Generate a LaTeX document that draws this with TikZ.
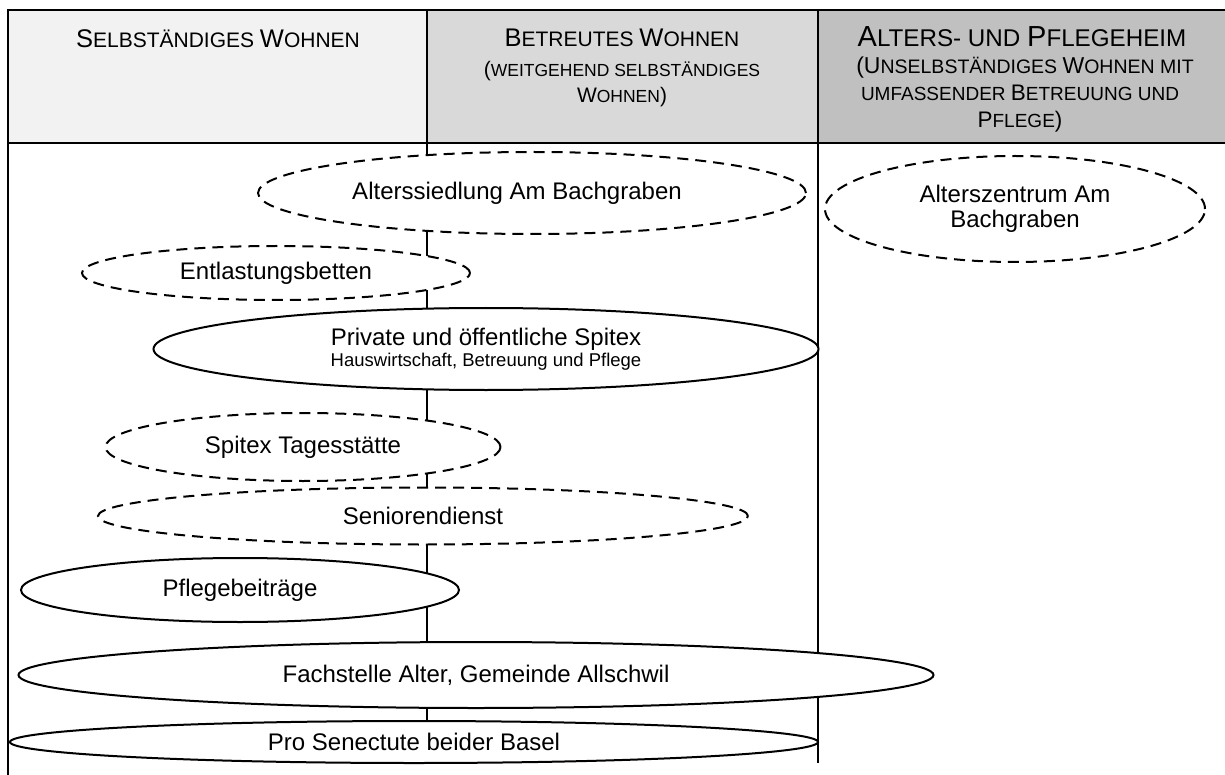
\documentclass[tikz,border=0pt]{standalone}
\usepackage{fontspec}
\setmainfont{Liberation Sans}
\usetikzlibrary{shapes.geometric}
\definecolor{hdrA}{HTML}{F2F2F2}
\definecolor{hdrB}{HTML}{D9D9D9}
\definecolor{hdrC}{HTML}{C0C0C0}
\newcommand{\fs}[1]{\fontsize{#1}{#1}\selectfont}
\begin{document}
\begin{tikzpicture}[x=1pt,y=-1pt,
  tbl/.style={line width=1.8pt},
  rule/.style={line width=1.4pt},
  blob/.style={ellipse, draw, fill=white, line width=2pt, inner sep=0pt, align=center, font=\fs{24}},
  dblob/.style={blob, dash pattern=on 11pt off 7pt},
  hd/.style={anchor=base, inner sep=0pt}
]
\useasboundingbox (0,0) rectangle (1225,775);
% header
\fill[hdrA] (8,10) rectangle (427,143);
\fill[hdrB] (427,10) rectangle (818,143);
\fill[hdrC] (818,10) rectangle (1225,143);
\coordinate (tl) at (8,10);
\coordinate (tr) at (1225,10);
\coordinate (bl) at (8,775);
\coordinate (hl) at (8,143);
\coordinate (hr) at (1225,143);
\coordinate (c1t) at (427,10);
\coordinate (c1m) at (427,143);
\coordinate (c1b) at (427,722);
\coordinate (c2t) at (818,10);
\coordinate (c2b) at (818,763);
\draw[tbl] (bl) -- (tl) -- (tr);
\draw[tbl] (hl) -- (hr);
\draw[tbl] (c1t) -- (c1m);
\draw[rule] (c1m) -- (c1b);
\draw[tbl] (c2t) -- (c2b);

\node[hd, font=\fs{21}] (h1) at (218,48) {{\fs{25.5}S}ELBSTÄNDIGES {\fs{25.5}W}OHNEN};
\node[hd, font=\fs{21}] (h2a) at (622,47) {{\fs{25.5}B}ETREUTES {\fs{25.5}W}OHNEN};
\node[hd, font=\fs{17.5}] (h2b) at (622,77) {{\fs{21}(}WEITGEHEND SELBSTÄNDIGES};
\node[hd, font=\fs{17.5}] (h2c) at (622,103) {{\fs{21}W}OHNEN{\fs{21})}};
\node[hd, font=\fs{24.2}] (h3a) at (1022,47) {{\fs{29}A}LTERS- UND {\fs{29}P}FLEGEHEIM};
\node[hd, font=\fs{19.5}] (h3b) at (1025,74) {{\fs{23}(U}NSELBSTÄNDIGES {\fs{23}W}OHNEN MIT};
\node[hd, font=\fs{19}] (h3c) at (1020,101) {UMFASSENDER {\fs{22.5}B}ETREUUNG UND};
\node[hd, font=\fs{19}] (h3d) at (1020,128) {{\fs{22.5}P}FLEGE{\fs{22.5})}};

% ellipses
\node[dblob, minimum width=548, minimum height=82] (sied) at (532,193) {\hspace*{-30pt}Alterssiedlung Am Bachgraben};
\node[dblob, minimum width=380, minimum height=106] (zent) at (1015,209) {Alterszentrum Am\\[1pt]Bachgraben};
\node[dblob, minimum width=388, minimum height=54] (entl) at (276,273) {Entlastungsbetten};
\node[blob, minimum width=665, minimum height=82] (spit) at (486,349) {Private und öffentliche Spitex\\[-3pt]{\fs{18.5}Hauswirtschaft, Betreuung und Pflege}};
\node[dblob, minimum width=395, minimum height=68] (tages) at (303,447) {Spitex Tagesstätte};
\node[dblob, minimum width=650, minimum height=57] (senior) at (423,516) {Seniorendienst};
\node[blob, minimum width=438, minimum height=64] (pflege) at (240,590) {Pflegebeiträge};
\node[blob, minimum width=915, minimum height=66] (fach) at (476,675) {Fachstelle Alter, Gemeinde Allschwil};
\node[blob, minimum width=808, minimum height=42] (pro) at (414,742) {Pro Senectute beider Basel};
\end{tikzpicture}
\end{document}
